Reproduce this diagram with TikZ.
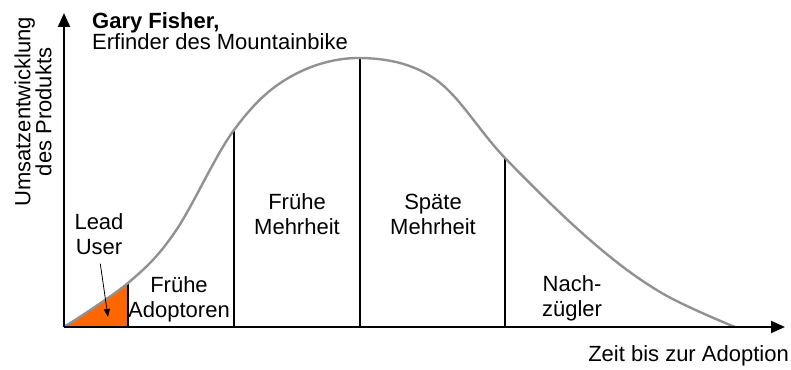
\documentclass[tikz,border=0pt]{standalone}
\usepackage{fontspec}
\setmainfont{Liberation Sans}
\usetikzlibrary{arrows.meta}
\definecolor{leadorange}{RGB}{255,102,0}
\definecolor{curvegray}{RGB}{145,145,145}

\begin{document}
\begin{tikzpicture}[x=1pt, y=1pt,
  axis/.style={line width=2pt, -{Triangle[length=14pt,width=12pt]}},
  divider/.style={line width=1.6pt},
  bell/.style={curvegray, line width=2.4pt},
  phase/.style={font=\fontsize{22}{25}\selectfont, align=center, inner sep=0pt},
  caption/.style={font=\fontsize{22}{21}\selectfont, inner sep=0pt},
  pointer/.style={line width=0.8pt, -{Triangle[length=8pt,width=6pt]}}]
  \useasboundingbox (0,0) rectangle (791,369);
  \coordinate (O) at (64,42);
  \coordinate (Y) at (64,356);
  \coordinate (X) at (785,42);
  % Grenzen der Phasen: auf der Achse (b) und auf der Kurve (c)
  \coordinate (b1) at (128,42);  \coordinate (c1) at (128,86);
  \coordinate (b2) at (234,42);  \coordinate (c2) at (234,239);
  \coordinate (b3) at (360,42);  \coordinate (c3) at (360,311);
  \coordinate (b4) at (505,42);  \coordinate (c4) at (505,211);
  \coordinate (E) at (735,42);

  \fill[leadorange] (O) -- (c1) -- (b1) -- cycle;
  \draw[divider] (b1) -- (c1);
  \draw[divider] (b2) -- (c2);
  \draw[divider] (b3) -- (c3);
  \draw[divider] (b4) -- (c4);

  \draw[bell] plot[smooth, tension=0.6] coordinates {(O) (c1) (175,137)
    (c2) (290,292) (c3) (435,290) (c4) (590,129) (660,77) (E)};

  \draw[axis] (O) -- (Y);
  \draw[axis] (O) -- (X);

  \node[phase] (lead) at (99,135) {Lead\\User};
  \coordinate (leadtip) at (108,52);
  \draw[pointer, shorten <=9pt] (lead.south) -- (leadtip);

  \node[phase] (early) at (179,70) {Frühe\\Adoptoren};
  \node[phase] (majority) at (297,155) {Frühe\\Mehrheit};
  \node[phase] (late) at (433,155) {Späte\\Mehrheit};
  \node[phase] (laggards) at (572,71) {Nach-\\zügler};

  \node[caption, anchor=east] (xlabel) at (789,13) {Zeit bis zur Adoption};
  \node[caption, rotate=90, align=center] (ylabel) at (33,257) {Umsatzentwicklung\\des Produkts};
  \node[caption, anchor=north west, align=left] (inventor) at (92,357)
    {\textbf{Gary Fisher,}\\Erfinder des Mountainbike};
\end{tikzpicture}
\end{document}
